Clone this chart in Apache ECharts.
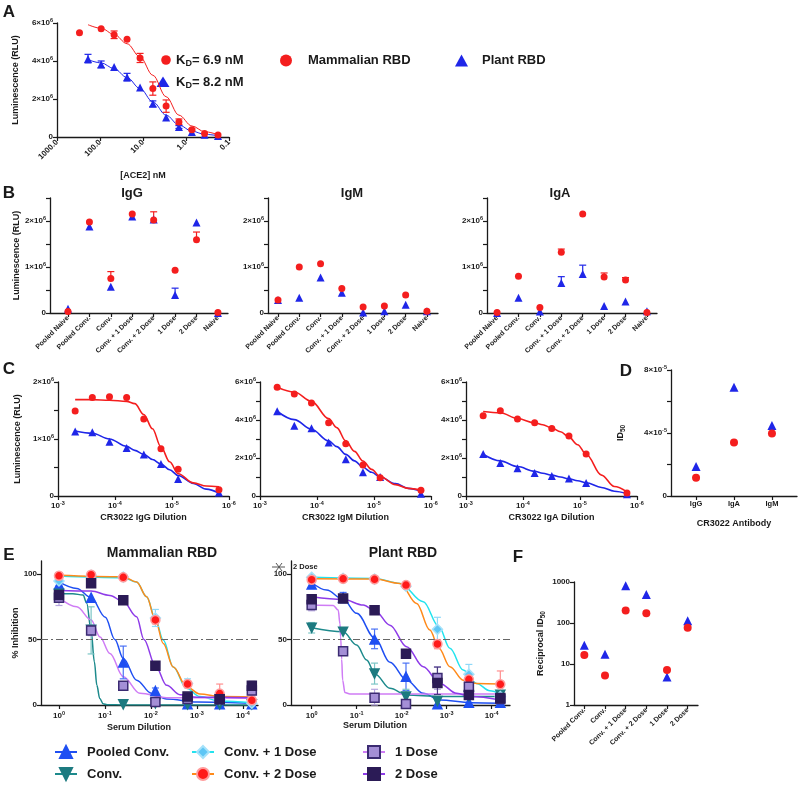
<!DOCTYPE html>
<html><head><meta charset="utf-8">
<script src="https://cdn.jsdelivr.net/npm/echarts@6/dist/echarts.min.js"></script>
<style>html,body{margin:0;padding:0;background:#fff}#c{width:800px;height:785px}</style>
</head><body><div id="c"></div><script>
// ---------------- DATA ----------------
// Panel A  (values in units of 1e6 RLU, concentrations in nM)
const A_redConc  = [300, 94, 47, 23.5, 11.7, 5.9, 2.9, 1.46, 0.73, 0.37, 0.18];
const A_redVal   = [5.49, 5.70, 5.38, 5.14, 4.16, 2.55, 1.63, 0.79, 0.38, 0.19, 0.10];
const A_blueConc = [190, 94, 47, 23.5, 11.7, 5.9, 2.9, 1.46, 0.73, 0.37, 0.18];
const A_blueVal  = [4.11, 3.81, 3.69, 3.15, 2.60, 1.75, 1.03, 0.52, 0.26, 0.12, 0.05];
const A_redErr   = [[47,5.18,5.58],[11.7,3.92,4.40],[5.9,2.20,2.90],[2.9,1.30,1.95],[1.46,0.65,0.95],[0.73,0.33,0.43]];
const A_blueErr  = [[190,3.90,4.35],[94,3.65,4.00],[23.5,2.95,3.35],[5.9,1.60,1.90],[1.46,0.45,0.60]];
const A_fitConc  = [190, 94, 47, 23.5, 11.7, 5.9, 2.9, 1.46, 0.73, 0.37, 0.18];
const A_redFit   = [5.91, 5.72, 5.40, 4.91, 4.21, 3.25, 2.12, 1.15, 0.58, 0.28, 0.12];
const A_blueFit  = [4.07, 3.90, 3.60, 3.13, 2.55, 1.85, 1.15, 0.63, 0.31, 0.14, 0.07];

// Panel B (1e6 RLU)
const B_cats = ['Pooled Naive','Pooled Conv.','Conv.','Conv. + 1 Dose','Conv. + 2 Dose','1 Dose','2 Dose','Naive'];
const B_IgG_red  = [0.03,1.98,0.75,2.15,2.02,0.93,1.59,0.01];
const B_IgG_blue = [0.09,1.88,0.57,2.10,2.03,0.39,1.97,0.00];
const B_IgG_redErr  = [[2,0.75,0.90],[4,2.02,2.20],[6,1.59,1.76]];
const B_IgG_blueErr = [[5,0.39,0.54]];
const B_IgM_red  = [0.28,1.00,1.07,0.53,0.13,0.15,0.39,0.04];
const B_IgM_blue = [0.28,0.33,0.77,0.44,0.01,0.04,0.18,0.04];
const B_IgA_red  = [0.01,0.80,0.12,1.32,2.15,0.78,0.72,0.01];
const B_IgA_blue = [0.00,0.33,0.03,0.65,0.85,0.15,0.25,0.04];
const B_IgA_redErr  = [[3,1.32,1.39],[5,0.78,0.87],[6,0.72,0.77]];
const B_IgA_blueErr = [[3,0.65,0.79],[4,0.85,1.04]];

// Panel C (1e6 RLU vs dilution)
const C_x = [5e-4, 2.5e-4, 1.25e-4, 6.25e-5, 3.125e-5, 1.5625e-5, 7.8e-6, 1.5e-6];
const C_IgG_red  = [1.49,1.73,1.74,1.73,1.35,0.83,0.47,0.11];
const C_IgG_blue = [1.13,1.12,0.95,0.84,0.73,0.56,0.30,0.06];
const C_IgM_red  = [5.72,5.37,4.89,3.86,2.75,1.63,0.96,0.30];
const C_IgM_blue = [4.46,3.70,3.56,2.81,1.93,1.25,1.00,0.12];
const C_IgA_red  = [4.23,4.49,4.05,3.85,3.55,3.16,2.21,0.16];
const C_IgA_blue = [2.21,1.74,1.46,1.21,1.05,0.92,0.68,0.09];
const C_fitX = [5e-4, 2.5e-4, 1.25e-4, 6.25e-5, 4.5e-5, 3.125e-5, 2.2e-5, 1.5625e-5, 1.1e-5, 7.8e-6, 4.2e-6, 2.5e-6, 1.5e-6];
const C_IgG_redFit  = [1.69,1.69,1.68,1.66,1.62,1.43,1.18,0.86,0.60,0.39,0.23,0.175,0.16];
const C_IgG_blueFit = [1.14,1.10,1.00,0.87,0.80,0.73,0.64,0.56,0.46,0.36,0.22,0.12,0.05];
const C_IgM_redFit  = [5.72,5.47,4.98,4.07,3.60,2.90,2.35,1.84,1.40,1.03,0.60,0.40,0.30];
const C_IgM_blueFit = [4.46,4.02,3.51,2.90,2.60,2.19,1.85,1.51,1.25,1.00,0.65,0.40,0.25];
const C_IgA_redFit  = [4.45,4.38,4.08,3.85,3.75,3.58,3.38,3.10,2.70,2.20,1.10,0.50,0.22];
const C_IgA_blueFit = [2.20,1.85,1.55,1.30,1.20,1.10,1.00,0.90,0.80,0.70,0.45,0.25,0.12];

// Panel D (1e-5)
const D_cats = ['IgG','IgA','IgM'];
const D_red  = [1.16, 3.40, 3.97];
const D_blue = [1.88, 6.90, 4.47];

// Panel E
const E_dil = [1, 0.2, 0.04, 0.008, 0.0016, 0.00032, 0.000064];
const E_groups = ['Pooled Conv.','Conv.','Conv. + 1 Dose','Conv. + 2 Dose','1 Dose','2 Dose'];
// Mammalian RBD
const EM_pts = {
  'Pooled Conv.':   [92, 82, 32.5, 10.7, 0.5, 0.5, 0.5],
  'Conv.':          [85, 57.5, 0.5, 1.3, 0.5, 0.5, 0.5],
  'Conv. + 1 Dose': [94.7, 99, 97.7, 66.4, 16.5, 4.3, 1.3],
  'Conv. + 2 Dose': [98.7, 99.5, 97.5, 65, 16, 8.7, 3.6],
  '1 Dose':         [82, 57, 14.8, 2.3, 4.6, 4.3, 11],
  '2 Dose':         [84, 93, 80, 30, 6.4, 4.3, 14.8]
};
const EM_err = {
  'Pooled Conv.':   [[1,89,95],[0.04,20,45],[0.008,9,13]],
  'Conv.':          [[1,83,87],[0.2,39,75]],
  'Conv. + 1 Dose': [[1,91,98],[0.008,60,73],[0.0016,13,20]],
  'Conv. + 2 Dose': [[0.008,62,68],[0.00032,2,16]],
  '1 Dose':         [[1,76,86],[0.2,53,61],[0.000064,7,16]],
  '2 Dose':         [[0.000064,12,18]]
};
const EM_fit = {
  'Pooled Conv.':   [[1,94],[0.41,89],[0.2,82],[0.098,67],[0.061,50],[0.04,35.6],[0.0205,19],[0.00984,9],[0.00456,4.6],[0.000985,2.3],[0.000064,1.3]],
  'Conv.':          [[1,85],[0.5,85],[0.3,84],[0.25,78],[0.2,57],[0.17,33],[0.15,15],[0.13,5],[0.11,1],[0.09,0.2],[0.04,0],[0.000064,0]],
  'Conv. + 1 Dose': [[1,98.5],[0.04,97.2],[0.0205,94],[0.0124,82.7],[0.008,65.6],[0.0054,49.6],[0.00327,29],[0.00168,12.7],[0.00086,6.4],[0.000316,3],[0.000064,1.8]],
  'Conv. + 2 Dose': [[1,99.2],[0.04,98],[0.0205,94],[0.0124,82.7],[0.008,65],[0.0054,47],[0.00327,29],[0.00168,14],[0.00086,8.4],[0.000316,6.4],[0.000064,6.1]],
  '1 Dose':         [[1,82],[0.41,75],[0.2,65],[0.128,52],[0.078,39.4],[0.04,21.6],[0.0173,8.9],[0.00456,5.6],[0.000064,5.1]],
  '2 Dose':         [[1,87.5],[0.2,87],[0.078,83.7],[0.04,79],[0.0205,67.4],[0.0142,50],[0.008,30],[0.00456,15],[0.00234,7.9],[0.000985,5.9],[0.000064,5.6]]
};
// Plant RBD
const EP_pts = {
  'Pooled Conv.':   [92, 82, 50, 21.6, 0.5, 1.8, 1.8],
  'Conv.':          [59, 56, 24, 6.4, 3, 6.9, 7.9],
  'Conv. + 1 Dose': [97.5, 96.7, 96.2, 90.8, 57.8, 23.4, 6.4],
  'Conv. + 2 Dose': [95.7, 96.4, 96, 91.6, 46.6, 19.6, 15.8],
  '1 Dose':         [76.3, 41, 5.6, 0.8, 20.6, 14, 4.6],
  '2 Dose':         [80.7, 81.4, 72.3, 39.2, 16.8, 7.6, 5.3]
};
const EP_err = {
  'Pooled Conv.':   [[1,89,95],[0.2,78,86],[0.04,43,58],[0.008,11,32]],
  'Conv.':          [[1,55,63],[0.04,16,32],[0.008,1,12]],
  'Conv. + 1 Dose': [[0.0016,49,67],[0.00032,16,31]],
  'Conv. + 2 Dose': [[0.0016,43,50],[0.000064,6,26]],
  '1 Dose':         [[1,72,80],[0.2,38,44],[0.04,0,12],[0.0016,12,29],[0.00032,8,20]],
  '2 Dose':         [[1,77,84],[0.0016,8,29]]
};
const EP_fit = {
  'Pooled Conv.':   [[1,93.6],[0.464,87.8],[0.2,80.7],[0.1,70],[0.039,50.9],[0.0182,32.6],[0.00774,19],[0.00331,8.9],[0.00141,3.8],[0.000288,1.8],[0.000064,1.3]],
  'Conv.':          [[1,59],[0.2,56],[0.1,45.8],[0.06,34.4],[0.039,23.7],[0.0182,12.7],[0.00774,7.6],[0.00141,6.4],[0.000064,6.4]],
  'Conv. + 1 Dose': [[1,97.5],[0.039,96.7],[0.0109,92.9],[0.00331,78.9],[0.00148,59.8],[0.000845,43.3],[0.000427,26.7],[0.000216,16.5],[0.000109,10.9],[0.000064,8.4]],
  'Conv. + 2 Dose': [[1,96.4],[0.039,96.2],[0.0109,92.9],[0.00464,77.6],[0.00236,57.3],[0.00148,43.3],[0.000845,29.3],[0.000427,19],[0.000216,16.5],[0.000064,16]],
  '1 Dose':         [[1,76.3],[0.331,76],[0.257,72.5],[0.235,62],[0.227,52],[0.215,35],[0.205,19],[0.182,9.5],[0.141,8.4],[0.000064,8.4]],
  '2 Dose':         [[1,82.7],[0.2,80.7],[0.0713,76.3],[0.039,72],[0.0182,61],[0.00774,44.5],[0.00331,29.3],[0.00141,16.5],[0.0006,8.9],[0.000288,6.4],[0.000064,3.8]]
};

// Panel F
const F_cats = ['Pooled Conv.','Conv.','Conv. + 1 Dose','Conv. + 2 Dose','1 Dose','2 Dose'];
const F_red  = [16.6, 5.25, 202, 174, 7.1, 77];
const F_blue = [28.6, 17.3, 815, 494, 4.8, 113];

// ---------------- STYLE ----------------
const FONT = '"Liberation Sans", Arial, "DejaVu Sans", sans-serif';
const RED = '#f41e1e', BLUE = '#1f26e8', INK = '#1a1a1a';
const E_style = {
  'Pooled Conv.':   {line:'#1f4ff2', fill:'#1f4ff2', border:'#1f4ff2', sym:'triangle', rot:0, size:9, err:'#4a72f5'},
  'Conv.':          {line:'#1d8a8c', fill:'#1d7a80', border:'#1d7a80', sym:'triangle', rot:180, size:9, err:'#7cc6c6'},
  'Conv. + 1 Dose': {line:'#22e3ee', fill:'#5ec6f5', border:'#a6e2fa', sym:'diamond', rot:0, size:10, err:'#8fd9f8'},
  'Conv. + 2 Dose': {line:'#ff8a1a', fill:'#ff1a1a', border:'#ff9c9c', sym:'circle', rot:0, size:9, err:'#ff8f8f'},
  '1 Dose':         {line:'#cf7cf5', fill:'#a48fd6', border:'#3b2b72', sym:'rect', rot:0, size:9, err:'#b7a6e0'},
  '2 Dose':         {line:'#8e3be8', fill:'#2b1b56', border:'#2b1b56', sym:'rect', rot:0, size:9, err:'#4b3b82'}
};

function isObj(o){return o && typeof o==='object' && !Array.isArray(o);}
function merge(a,b){const r=Object.assign({},a);for(const k in b){r[k]=(isObj(a[k])&&isObj(b[k]))?merge(a[k],b[k]):b[k];}return r;}

const RICH = {
  b:{fontSize:8, fontWeight:'bold', fontFamily:FONT, color:INK, lineHeight:11},
  s:{fontSize:5.5, fontWeight:'bold', fontFamily:FONT, color:INK, verticalAlign:'top'}
};
const NAMERICH = {
  b:{fontSize:9, fontWeight:'bold', fontFamily:FONT, color:INK, lineHeight:13},
  s:{fontSize:6.5, fontWeight:'bold', fontFamily:FONT, color:INK, verticalAlign:'bottom'}
};
function sci(v){
  if (Math.abs(v) < 1e-15) return '{b|0}';
  const e = Math.floor(Math.log10(Math.abs(v)) + 1e-9);
  const m = Math.round(v/Math.pow(10,e));
  return '{b|' + m + '×10}{s|' + e + '}';
}
function sciEvery(step){ return v => { const r = v/step; return Math.abs(r-Math.round(r))<1e-6 ? sci(v) : ''; }; }
function pow10(v){ const e = Math.round(Math.log10(v)); return '{b|10}{s|' + e + '}'; }

const baseAxis = {
  axisLine:{show:true, onZero:false, lineStyle:{color:INK, width:1.3}},
  axisTick:{show:true, length:4, lineStyle:{color:INK, width:1.2}},
  minorTick:{show:false},
  splitLine:{show:false},
  axisLabel:{fontSize:8, fontWeight:'bold', color:INK, fontFamily:FONT, margin:4, rich:RICH},
  nameTextStyle:{fontSize:9, fontWeight:'bold', color:INK, fontFamily:FONT, rich:NAMERICH}
};

const option = {animation:false, backgroundColor:'#fff', textStyle:{fontFamily:FONT},
  grid:[], xAxis:[], yAxis:[], series:[], title:[], legend:[], graphic:[]};

function panel(rect, xa, ya){
  const i = option.grid.length;
  option.grid.push(Object.assign({containLabel:false, outerBoundsMode:'none'}, rect));
  option.xAxis.push(merge(merge(baseAxis,{gridIndex:i}), xa));
  option.yAxis.push(merge(merge(baseAxis,{gridIndex:i}), ya));
  return i;
}
function scatter(gi, name, data, sym, size, color, extra){
  option.series.push(merge({type:'scatter', name, xAxisIndex:gi, yAxisIndex:gi, data, symbol:sym, symbolSize:size,
    itemStyle:{color, opacity:1}, z:5, silent:true}, extra||{}));
}
function curve(gi, name, data, color, width, extra){
  option.series.push(merge({type:'line', name, xAxisIndex:gi, yAxisIndex:gi, data, smooth:0.35, smoothMonotone:'x',
    showSymbol:false, symbol:'none', lineStyle:{color, width}, itemStyle:{color}, z:2, silent:true}, extra||{}));
}
function errbars(gi, data, color, oneSided, cap){
  const w = cap || 3.5;
  option.series.push({type:'custom', xAxisIndex:gi, yAxisIndex:gi, data, silent:true, z:3,
    encode:{x:0, y:[1,2]},
    renderItem(params, api){
      const x = api.value(0), lo = api.value(1), hi = api.value(2);
      const p1 = api.coord([x, lo]), p2 = api.coord([x, hi]);
      const st = {stroke:color, lineWidth:1.2};
      const ch = [
        {type:'line', shape:{x1:p1[0], y1:p1[1], x2:p2[0], y2:p2[1]}, style:st},
        {type:'line', shape:{x1:p2[0]-w, y1:p2[1], x2:p2[0]+w, y2:p2[1]}, style:st}];
      if (!oneSided) ch.push({type:'line', shape:{x1:p1[0]-w, y1:p1[1], x2:p1[0]+w, y2:p1[1]}, style:st});
      return {type:'group', children:ch};
    }});
}
const M = 1e6;
const zip = (xs, ys, k) => xs.map((x,i)=>[x, ys[i]*k]);
const idx = (ys, k) => ys.map((y,i)=>[i, y*k]);
const scaleErr = (arr, k) => arr.map(r=>[r[0], r[1]*k, r[2]*k]);
function title(text, x, y, size, align){
  option.title.push({text, left:x, top:y, padding:0, textAlign:align||'center', textVerticalAlign:'middle',
    textStyle:{fontSize:size, fontWeight:'bold', fontFamily:FONT, color:INK}});
}

// ---------------- PANEL A ----------------
let g = panel({left:57, top:23, width:172, height:114},
  {type:'log', logBase:10, min:0.1, max:1000, inverse:true, name:'[ACE2] nM', nameLocation:'middle', nameGap:34,
   axisLabel:{rotate:45, formatter:v=>Number(v).toFixed(1)}},
  {type:'value', min:0, max:6*M, interval:2*M, name:'Luminescence (RLU)', nameLocation:'middle', nameGap:37,
   axisLabel:{formatter:v=>sci(v)}});
curve(g, 'A red fit', zip(A_fitConc, A_redFit, M), RED, 1);
curve(g, 'A blue fit', zip(A_fitConc, A_blueFit, M), BLUE, 1);
errbars(g, scaleErr(A_redErr, M), RED, false, 3.5);
errbars(g, scaleErr(A_blueErr, M), BLUE, false, 3.5);
scatter(g, 'Plant RBD', zip(A_blueConc, A_blueVal, M), 'triangle', 8, BLUE);
scatter(g, 'Mammalian RBD', zip(A_redConc, A_redVal, M), 'circle', 7, RED);

// ---------------- PANEL B ----------------
function bPanel(left, width, min, max, blue, red, blueErr, redErr, yName){
  const gi = panel({left, top:198, width, height:115},
    {type:'value', min, max, axisTick:{customValues:[0,1,2,3,4,5,6,7]},
     axisLabel:{customValues:[0,1,2,3,4,5,6,7], rotate:45, fontSize:7, formatter:v=>B_cats[Math.round(v)]}},
    {type:'value', min:0, max:2.5*M, interval:0.5*M, name:yName||'', nameLocation:'middle', nameGap:28,
     axisLabel:{formatter:sciEvery(M)}});
  if (blueErr) errbars(gi, scaleErr(blueErr, M), BLUE, true, 3.5);
  if (redErr) errbars(gi, scaleErr(redErr, M), RED, true, 3.5);
  scatter(gi, 'B blue ' + left, idx(blue, M), 'triangle', 8, BLUE);
  scatter(gi, 'B red ' + left, idx(red, M), 'circle', 7, RED);
}
bPanel(50, 178, -0.84, 7.47, B_IgG_blue, B_IgG_red, B_IgG_blueErr, B_IgG_redErr, 'Luminescence (RLU)');
bPanel(268, 170, -0.47, 7.52, B_IgM_blue, B_IgM_red, null, null);
bPanel(487, 170, -0.47, 7.47, B_IgA_blue, B_IgA_red, B_IgA_blueErr, B_IgA_redErr);

// ---------------- PANEL C ----------------
function cPanel(left, ymax, yint, lblStep, name, red, blue, redFit, blueFit, yName){
  const gi = panel({left, top:382, width:171, height:114},
    {type:'log', logBase:10, min:1e-6, max:1e-3, inverse:true, name, nameLocation:'middle', nameGap:17,
     axisLabel:{formatter:pow10}},
    {type:'value', min:0, max:ymax, interval:yint, name:yName||'', nameLocation:'middle', nameGap:36,
     axisLabel:{formatter:sciEvery(lblStep)}});
  curve(gi, 'C blue fit ' + left, zip(C_fitX, blueFit, M), BLUE, 1.6);
  curve(gi, 'C red fit ' + left, zip(C_fitX, redFit, M), RED, 1.6);
  scatter(gi, 'C blue ' + left, zip(C_x, blue, M), 'triangle', 8, BLUE);
  scatter(gi, 'C red ' + left, zip(C_x, red, M), 'circle', 7, RED);
}
cPanel(58, 2*M, 0.5*M, M, 'CR3022 IgG Dilution', C_IgG_red, C_IgG_blue, C_IgG_redFit, C_IgG_blueFit, 'Luminescence (RLU)');
cPanel(260, 6*M, M, 2*M, 'CR3022 IgM Dilution', C_IgM_red, C_IgM_blue, C_IgM_redFit, C_IgM_blueFit);
cPanel(466, 6*M, M, 2*M, 'CR3022 IgA Dilution', C_IgA_red, C_IgA_blue, C_IgA_redFit, C_IgA_blueFit);

// ---------------- PANEL D ----------------
g = panel({left:671, top:370, width:126, height:126},
  {type:'value', min:-0.66, max:2.66, name:'CR3022 Antibody', nameLocation:'middle', nameGap:23,
   axisTick:{customValues:[0,1,2]}, axisLabel:{customValues:[0,1,2], fontSize:7.5, formatter:v=>D_cats[Math.round(v)]}},
  {type:'value', min:0, max:8e-5, interval:2e-5, name:'{b|ID}{s|50}', nameLocation:'middle', nameGap:44,
   axisLabel:{formatter:sciEvery(4e-5)}});
scatter(g, 'D blue', idx(D_blue, 1e-5), 'triangle', 9, BLUE);
scatter(g, 'D red', idx(D_red, 1e-5), 'circle', 8, RED);

// ---------------- PANEL E ----------------
function ePanel(left, width, min, max, pts, errs, fits, yName, isFirst){
  const gi = panel({left, top:561, width, height:144},
    {type:'log', logBase:10, min, max, inverse:true,
     axisTick:{customValues:[1,0.1,0.01,0.001,0.0001]},
     axisLabel:{customValues:[1,0.1,0.01,0.001,0.0001], formatter:pow10, margin:5}},
    {type:'value', min:0, max:110, name:yName||'', nameLocation:'middle', nameGap:21,
     axisTick:{customValues:[0,50,100]}, axisLabel:{customValues:[0,50,100], formatter:v=>'{b|'+v+'}'}});
  E_groups.forEach((name, k) => {
    const s = E_style[name];
    const extra = {symbol:s.sym, symbolSize:s.size, symbolRotate:s.rot,
      itemStyle:{color:s.fill, borderColor:s.border, borderWidth:1.5}};
    if (k === 0) extra.markLine = {silent:true, symbol:'none', label:{show:false},
      lineStyle:{color:'#666', type:[7,3,2,3], width:1.2}, data:[{yAxis:50}]};
    curve(gi, name, fits[name], s.line, 1.5, extra);
  });
  E_groups.forEach(name => errbars(gi, errs[name], E_style[name].err, false, 3.5));
  E_groups.forEach(name => {
    const s = E_style[name];
    scatter(gi, name + ' pts ' + left, E_dil.map((d,i)=>[d, pts[name][i]]), s.sym, s.size, s.fill,
      {symbolRotate:s.rot, itemStyle:{borderColor:s.border, borderWidth:1.5}});
  });
}
ePanel(41, 217, 4.7e-5, 2.46, EM_pts, EM_err, EM_fit, '% Inhibition');
ePanel(291, 219, 3.9e-5, 2.88, EP_pts, EP_err, EP_fit, '');

// ---------------- PANEL F ----------------
g = panel({left:574, top:582, width:124, height:123},
  {type:'category', data:F_cats, boundaryGap:true, axisTick:{alignWithLabel:true},
   axisLabel:{rotate:45, fontSize:7, interval:0}},
  {type:'log', logBase:10, min:1, max:1000, name:'{b|Reciprocal ID}{s|50}', nameLocation:'middle', nameGap:27,
   axisLabel:{formatter:v=>'{b|'+Math.round(v)+'}'}});
scatter(g, 'F blue', F_blue, 'triangle', 9, BLUE);
scatter(g, 'F red', F_red, 'circle', 8, RED);

// ---------------- LEGENDS ----------------
const legText = {fontSize:13, fontWeight:'bold', fontFamily:FONT, color:INK};
option.legend.push({data:['Mammalian RBD'], left:280, top:54, itemWidth:12, itemHeight:12, padding:0,
  textStyle:merge(legText,{padding:[0,0,0,11]}), selectedMode:false});
option.legend.push({data:['Plant RBD'], left:455, top:54, itemWidth:13, itemHeight:12, padding:0,
  textStyle:merge(legText,{padding:[0,0,0,9]}), selectedMode:false});
[[['Pooled Conv.','Conv.'],54],[['Conv. + 1 Dose','Conv. + 2 Dose'],191],[['1 Dose','2 Dose'],362]].forEach(([d,l])=>{
  option.legend.push({data:d, left:l, top:745, orient:'vertical', itemGap:8, itemWidth:22, itemHeight:15, padding:0,
    textStyle:merge(legText,{padding:[0,0,0,5]}), selectedMode:false});
});

// ---------------- TEXT ----------------
title('A', 9, 12, 17); title('B', 9, 193, 17); title('C', 9, 369, 17);
title('D', 626, 371, 17); title('E', 9, 555, 17); title('F', 518, 557, 17);
title('IgG', 132, 193, 13); title('IgM', 352, 193, 13); title('IgA', 560, 193, 13);
title('Mammalian RBD', 162, 553, 14); title('Plant RBD', 403, 553, 14);
title('Serum Dilution', 139, 728, 9); title('Serum Dilution', 375, 726, 9);
title('2 Dose', 293, 567, 7.5, 'left');

const KDRICH = {b:{fontSize:13, fontWeight:'bold', fontFamily:FONT, fill:INK, lineHeight:17},
                s:{fontSize:9, fontWeight:'bold', fontFamily:FONT, fill:INK, verticalAlign:'bottom'}};
option.graphic = [
  {type:'circle', shape:{cx:166, cy:60, r:4.8}, style:{fill:RED}, silent:true},
  {type:'polygon', shape:{points:[[163,76.5],[169.5,87],[156.5,87]]}, style:{fill:BLUE}, silent:true},
  {type:'text', x:176, y:60, silent:true, style:{text:'{b|K}{s|D}{b|= 6.9 nM}', rich:KDRICH, verticalAlign:'middle', textVerticalAlign:'middle', fill:INK}},
  {type:'text', x:176, y:82, silent:true, style:{text:'{b|K}{s|D}{b|= 8.2 nM}', rich:KDRICH, verticalAlign:'middle', textVerticalAlign:'middle', fill:INK}},
  {type:'line', shape:{x1:272, y1:567, x2:285, y2:567}, style:{stroke:'#555', lineWidth:1}, silent:true},
  {type:'line', shape:{x1:276, y1:563, x2:282, y2:571}, style:{stroke:'#555', lineWidth:1}, silent:true},
  {type:'line', shape:{x1:282, y1:563, x2:276, y2:571}, style:{stroke:'#555', lineWidth:1}, silent:true}
];

const chart = echarts.init(document.getElementById('c'), null, {renderer:'canvas', width:800, height:785});
chart.setOption(option);
</script></body></html>
